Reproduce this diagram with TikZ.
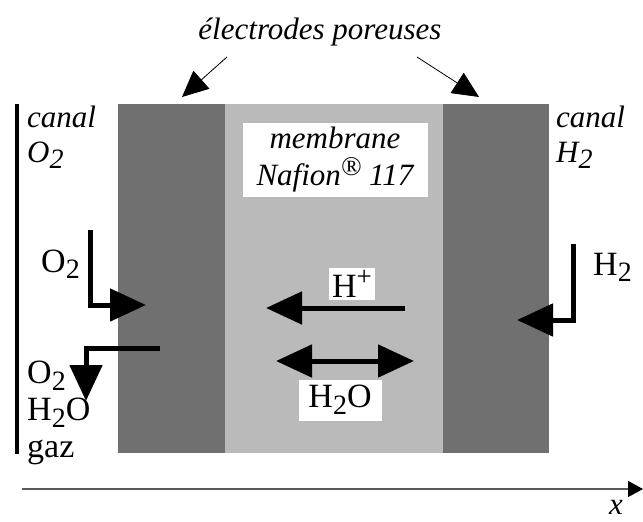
\documentclass[tikz,border=0pt]{standalone}
\usepackage{fontspec}
\setmainfont{Liberation Serif}
\usetikzlibrary{arrows.meta}

\newcommand{\bas}[1]{\raisebox{-0.42ex}{\fontsize{28}{28}\selectfont #1}}
\newcommand{\haut}[1]{\raisebox{0.75ex}{\fontsize{27}{27}\selectfont #1}}

\begin{document}
\begin{tikzpicture}[
        x=1pt, y=-1pt,
        font=\fontsize{34}{36}\selectfont,
        ital/.style={font=\fontsize{31}{35}\selectfont\itshape},
        electrode/.style={fill=black!56},
        membrane/.style={fill=black!27},
        whitebox/.style={fill=white, inner sep=1pt, align=center},
        flux/.style={line width=5pt, -{Triangle[length=36pt, width=32pt]}},
        pointer/.style={line width=0.8pt, -{Triangle[length=26pt, width=24pt]}}
    ]

    \useasboundingbox (0,0) rectangle (643,522);

    \fill[electrode] (118,104) rectangle (225,453);
    \fill[membrane] (225,104) rectangle (443,453);
    \fill[electrode] (443,104) rectangle (549,453);

    \draw[line width=4.5pt] (17,104) -- (17,454);

    \node[ital] (title) at (320,32) {électrodes poreuses};
    \coordinate (ptA) at (227,57);
    \coordinate (ptB) at (182,97);
    \coordinate (ptC) at (417,57);
    \coordinate (ptD) at (479,97);
    \draw[pointer] (ptA) -- (ptB);
    \draw[pointer] (ptC) -- (ptD);

    \node[ital, anchor=north west, align=left, inner sep=0pt] (canalO) at (27,106)
        {canal\\O\bas{2}};
    \node[ital, anchor=north west, align=left, inner sep=0pt] (canalH) at (556,106)
        {canal\\H\bas{2}};

    \node[whitebox, ital, font=\fontsize{31}{37}\selectfont\itshape,
          minimum width=185pt, minimum height=74pt] (nafion) at (335,160)
        {membrane\\Nafion\haut{\textregistered} 117};

    \node[anchor=base west, inner sep=0pt] (oxin) at (41,272) {O\bas{2}};
    \coordinate (oxtop) at (90,230);
    \coordinate (oxtip) at (146,305);
    \draw[flux] (oxtop) |- (oxtip);

    \coordinate (outstart) at (160,348);
    \coordinate (outtip) at (86,401);
    \draw[flux] (outstart) -| (outtip);
    \node[anchor=north west, align=left, inner sep=0pt,
          font=\fontsize{34}{37}\selectfont] (gaz) at (27,361)
        {O\bas{2}\\H\bas{2}O\\gaz};

    \node[anchor=base west, inner sep=0pt] (hyin) at (593,275) {H\bas{2}};
    \coordinate (hytop) at (573,244);
    \coordinate (hytip) at (517,320);
    \draw[flux] (hytop) |- (hytip);

    \node[whitebox, minimum width=46pt, minimum height=32pt] (proton) at (352,284) {H\haut{+}};
    \coordinate (hpstart) at (405,308);
    \coordinate (hpend) at (266,308);
    \draw[flux] (hpstart) -- (hpend);

    \coordinate (wleft) at (276,361);
    \coordinate (wright) at (414,361);
    \draw[flux, {Triangle[length=36pt, width=32pt]}-{Triangle[length=36pt, width=32pt]}] (wleft) -- (wright);
    \node[whitebox, minimum width=83pt, minimum height=41pt] (water) at (340,400) {H\bas{2}O};

    \coordinate (axstart) at (22,489);
    \coordinate (axend) at (643,489);
    \draw[black!65, line width=1.3pt, -{Triangle[length=15pt, width=16pt, fill=black, color=black]}] (axstart) -- (axend);
    \node[ital, inner sep=0pt] (xlab) at (616,507) {x};

\end{tikzpicture}
\end{document}
